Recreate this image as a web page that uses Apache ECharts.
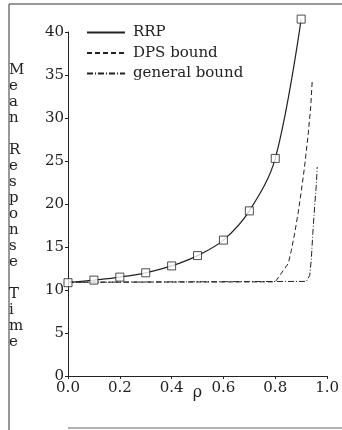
<!DOCTYPE html>
<html><head><meta charset="utf-8">
<script src="https://cdn.jsdelivr.net/npm/echarts@6/dist/echarts.min.js"></script>
<style>html,body{margin:0;padding:0;background:#fff}#c{width:342px;height:430px}</style>
</head><body><div id="c"></div>
<script>
var rrpRho = [0.0, 0.1, 0.2, 0.3, 0.4, 0.5, 0.6, 0.7, 0.8, 0.9];
var rrpVal = [10.85, 11.15, 11.5, 12.0, 12.8, 14.0, 15.8, 19.2, 25.3, 41.5];
var dpsRho = [0.0, 0.8, 0.8505, 0.862, 0.875, 0.888, 0.901, 0.913, 0.926, 0.937, 0.943];
var dpsVal = [10.9, 10.95, 13.1, 14.6, 16.6, 18.9, 21.6, 24.3, 27.8, 31.3, 34.5];
var genRho = [0.0, 0.92, 0.933, 0.939, 0.945, 0.952, 0.958, 0.962];
var genVal = [10.9, 11.0, 11.7, 13.5, 16.6, 19.7, 22.0, 24.3];
var xTicks = [0, 0.2, 0.4, 0.6, 0.8, 1.0];
var yTicks = [0, 5, 10, 15, 20, 25, 30, 35, 40];
var yTitle = 'Mean Response Time';
var seriesNames = ['RRP', 'DPS bound', 'general bound'];

function pairs(a, b) { return a.map(function (v, i) { return [v, b[i]]; }); }
var font = 'DejaVu Serif';
var ink = '#222';
var titleText = yTitle.split(' ').map(function (w) { return w.split('').join('\n'); }).join('\n\n');

var chart = echarts.init(document.getElementById('c'), null, {renderer: 'canvas'});
chart.setOption({
  animation: false,
  backgroundColor: '#fff',
  grid: {left: 68, right: 13, top: 32, bottom: 54},
  legend: {
    orient: 'vertical', left: 86, top: 25, padding: 0, itemWidth: 38, itemHeight: 14, itemGap: 5.5,
    data: seriesNames,
    itemStyle: {opacity: 0},
    textStyle: {fontFamily: font, fontSize: 15, color: ink, padding: [0, 0, 0, 3]}
  },
  xAxis: {
    type: 'value', min: 0, max: 1, interval: 0.2,
    name: 'ρ', nameLocation: 'middle', nameGap: 9, nameMoveOverlap: false,
    nameTextStyle: {fontFamily: font, fontSize: 16, color: ink},
    axisLine: {lineStyle: {color: ink, width: 1}},
    axisTick: {inside: false, length: 3, lineStyle: {color: ink}},
    axisLabel: {fontFamily: font, fontSize: 15, color: ink, margin: 5,
      formatter: function (v) { return v.toFixed(1); }},
    splitLine: {show: false}
  },
  yAxis: {
    type: 'value', min: 0, max: 40, interval: 5,
    axisLine: {show: true, lineStyle: {color: ink, width: 1}},
    axisTick: {show: true, inside: false, length: 3, lineStyle: {color: ink}},
    axisLabel: {fontFamily: font, fontSize: 15, color: ink, margin: 4},
    splitLine: {show: false}
  },
  graphic: [
    {type: 'text', left: 9, top: 62, style: {text: titleText, fontFamily: font, fontSize: 15, lineHeight: 16, fill: ink, align: 'center', width: 16}},
    {type: 'line', shape: {x1: 9, y1: 4, x2: 9, y2: 430}, style: {stroke: '#333', lineWidth: 1}},
    {type: 'line', shape: {x1: 9, y1: 4, x2: 342, y2: 4}, style: {stroke: '#333', lineWidth: 1}},
    {type: 'line', shape: {x1: 68, y1: 428, x2: 342, y2: 428}, style: {stroke: '#666', lineWidth: 1}}
  ],
  series: [
    {name: seriesNames[0], type: 'line', data: pairs(rrpRho, rrpVal), smooth: 0.35, clip: false,
      symbol: 'none', lineStyle: {color: ink, width: 1.2}, itemStyle: {color: ink}, z: 3},
    {name: 'RRP markers', type: 'scatter', data: pairs(rrpRho, rrpVal), clip: false,
      symbol: 'rect', symbolSize: 8, itemStyle: {color: '#fff', borderColor: ink, borderWidth: 1}, z: 4},
    {name: seriesNames[1], type: 'line', data: pairs(dpsRho, dpsVal), symbol: 'none',
      lineStyle: {color: ink, width: 1, type: [5, 3]}, itemStyle: {color: ink}, z: 2},
    {name: seriesNames[2], type: 'line', data: pairs(genRho, genVal), symbol: 'none',
      lineStyle: {color: ink, width: 1, type: [6, 2, 1, 2]}, itemStyle: {color: ink}, z: 2}
  ]
});
</script></body></html>
